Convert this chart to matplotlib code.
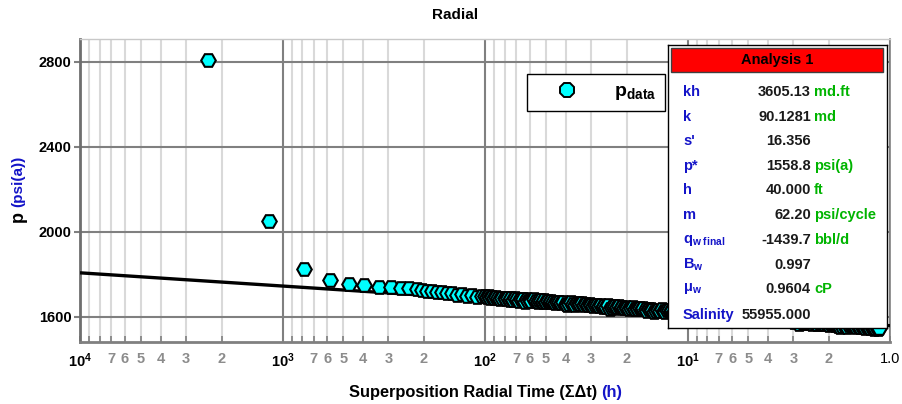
import matplotlib
matplotlib.use("Agg")
import matplotlib.pyplot as plt
import numpy as np
from matplotlib.ticker import FixedLocator, FixedFormatter
from matplotlib.lines import Line2D
from matplotlib.patches import Rectangle

plt.rcParams['font.family'] = ['Liberation Sans', 'DejaVu Sans']
plt.rcParams['mathtext.fontset'] = 'custom'
plt.rcParams['mathtext.rm'] = 'Liberation Sans'
plt.rcParams['mathtext.bf'] = 'Liberation Sans:bold'
plt.rcParams['mathtext.it'] = 'Liberation Sans:italic'

# Superposition radial time (h)
t_data = [2340, 1160, 780, 586, 468, 395, 333, 290, 259, 237,
          216, 204, 193, 182, 172, 163, 154, 146, 138, 130,
          123, 116, 110, 104,
          100, 98, 96, 94, 92, 90, 88, 86, 84, 82,
          80, 78.5, 77, 75.5, 74, 72.5, 71, 69.5, 68, 66.5,
          65, 63.5, 62, 61, 60, 59, 57.5, 56, 55, 54,
          53, 52, 51, 50, 49, 48, 47, 46, 45, 44,
          43, 42, 41, 40, 39.2, 38.4, 37.6, 36.8, 36, 35.2,
          34.5, 33.8, 33.1, 32.4, 31.7, 31, 30.4, 29.8, 29.2, 28.6,
          28, 27.4, 26.8, 26.2, 25.7, 25.2, 24.7, 24.2, 23.7, 23.2,
          22.7, 22.2, 21.8, 21.4, 21, 20.6, 20.2, 19.8, 19.4, 19,
          18.6, 18.2, 17.8, 17.5, 17.1, 16.8, 16.5, 16.1, 15.8, 15.5,
          15.2, 14.9, 14.6, 14.3, 14.0, 13.7, 13.4, 13.1, 12.9, 12.6,
          12.4, 12.1, 11.9, 11.6, 11.4, 11.2, 10.9, 10.7, 10.5, 10.3,
          10.1,
          9.9, 9.7, 9.5, 9.3, 9.1, 8.9, 8.7, 8.5, 8.3, 8.1,
          7.95, 7.8, 7.65, 7.5, 7.35, 7.2, 7.05, 6.9, 6.75, 6.6,
          6.45, 6.3, 6.18, 6.05, 5.93, 5.81, 5.69, 5.58, 5.47, 5.36,
          5.25, 5.14, 5.04, 4.94, 4.84, 4.74, 4.65, 4.55, 4.46, 4.37,
          4.28, 4.2, 4.11, 4.03, 3.95, 3.87, 3.79, 3.72, 3.64, 3.57,
          3.5, 3.43, 3.36, 3.29, 3.23, 3.16, 3.1, 3.04, 2.98, 2.92,
          2.86, 2.8, 2.75, 2.69, 2.64, 2.59, 2.53, 2.48, 2.43, 2.39,
          2.34, 2.29, 2.25, 2.2, 2.16, 2.11, 2.07, 2.03, 1.99, 1.95,
          1.91, 1.87, 1.84, 1.8, 1.76, 1.73, 1.69, 1.66, 1.63, 1.59,
          1.56, 1.53, 1.5, 1.47, 1.44, 1.41, 1.38, 1.36, 1.33, 1.3,
          1.28, 1.25, 1.23, 1.2, 1.18, 1.15, 1.13]

# Measured pressure (psi(a))
p_data = [2810, 2052, 1826, 1776, 1756, 1748, 1741, 1739, 1736, 1734,
          1731, 1729, 1723, 1724, 1716, 1718, 1711, 1713, 1705, 1707,
          1700, 1703, 1696, 1698,
          1698, 1693, 1698, 1689, 1694, 1689, 1696, 1689, 1684, 1691,
          1691, 1686, 1691, 1682, 1687, 1682, 1689, 1683, 1677, 1684,
          1685, 1670, 1684, 1676, 1680, 1675, 1683, 1676, 1670, 1678,
          1678, 1672, 1678, 1669, 1674, 1669, 1676, 1670, 1664, 1671,
          1671, 1666, 1671, 1662, 1654, 1662, 1669, 1662, 1657, 1664,
          1664, 1659, 1664, 1655, 1660, 1655, 1662, 1656, 1650, 1657,
          1658, 1652, 1657, 1649, 1653, 1648, 1656, 1639, 1643, 1651,
          1651, 1645, 1651, 1642, 1647, 1642, 1649, 1643, 1637, 1644,
          1645, 1639, 1644, 1636, 1640, 1636, 1643, 1636, 1630, 1638,
          1638, 1633, 1623, 1629, 1634, 1629, 1636, 1630, 1624, 1631,
          1632, 1626, 1632, 1623, 1627, 1623, 1630, 1623, 1618, 1625,
          1625,
          1625, 1619, 1624, 1616, 1620, 1615, 1622, 1615, 1610, 1617,
          1617, 1611, 1617, 1601, 1612, 1608, 1615, 1608, 1602, 1610,
          1610, 1604, 1609, 1601, 1605, 1600, 1607, 1601, 1595, 1602,
          1603, 1597, 1602, 1594, 1598, 1593, 1600, 1584, 1588, 1595,
          1596, 1590, 1595, 1586, 1591, 1586, 1593, 1587, 1581, 1588,
          1589, 1583, 1588, 1579, 1584, 1579, 1586, 1580, 1574, 1581,
          1582, 1567, 1581, 1572, 1577, 1572, 1579, 1573, 1567, 1574,
          1575, 1569, 1574, 1565, 1570, 1565, 1572, 1566, 1560, 1567,
          1567, 1562, 1567, 1558, 1551, 1558, 1565, 1559, 1553, 1560,
          1560, 1555, 1560, 1551, 1556, 1551, 1558, 1552, 1546, 1553,
          1554, 1548, 1553, 1544, 1549, 1544, 1546]

# Semilog straight-line analysis results
p_star = 1558.8      # psi(a), pressure extrapolated to unit superposition time
slope_m = 62.20      # psi/cycle
t_line = np.array([1.0e4, 1.0])
p_line = p_star + slope_m * np.log10(t_line)

# Analysis table
param_names = ['kh', 'k', "s'", 'p*', 'h', 'm',
               r'$\mathbf{q}_{\mathbf{w\ final}}$', r'$\mathbf{B}_{\mathbf{w}}$',
               r'$\mathbf{\mu}_{\mathbf{w}}$', 'Salinity']
param_values = ['3605.13', '90.1281', '16.356', '1558.8', '40.000', '62.20',
                '-1439.7', '0.997', '0.9604', '55955.000']
param_units = ['md.ft', 'md', '', 'psi(a)', 'ft', 'psi/cycle', 'bbl/d', '', 'cP', '']

major_ticks = [1e4, 1e3, 1e2, 1e1, 1.0]
major_labels = [r'$\mathbf{10^{4}}$', r'$\mathbf{10^{3}}$', r'$\mathbf{10^{2}}$',
                r'$\mathbf{10^{1}}$', '1.0']
minor_digits = [2, 3, 4, 5, 6, 7, 8, 9]
minor_digit_labels = ['2', '3', '4', '5', '6', '7', '', '']
y_ticks = [1600, 2000, 2400, 2800]

W, H = 902, 404
fig = plt.figure(figsize=(W / 100, H / 100), dpi=100)
fig.patch.set_facecolor('white')

ax_l, ax_r, ax_t, ax_b = 80, 890, 39, 342
ax = fig.add_axes([ax_l / W, 1 - ax_b / H, (ax_r - ax_l) / W, (ax_b - ax_t) / H])
ax.set_xscale('log')
ax.set_xlim(1e4, 1.0)
ax.set_ylim(1482, 2908)

minor_locs, minor_labs = [], []
for d in [1e3, 1e2, 1e1, 1.0]:
    for k, lab in zip(minor_digits, minor_digit_labels):
        minor_locs.append(k * d)
        minor_labs.append(lab)

ax.xaxis.set_major_locator(FixedLocator(major_ticks))
ax.xaxis.set_major_formatter(FixedFormatter(major_labels))
ax.xaxis.set_minor_locator(FixedLocator(minor_locs))
ax.xaxis.set_minor_formatter(FixedFormatter(minor_labs))
ax.yaxis.set_major_locator(FixedLocator(y_ticks))
ax.yaxis.set_minor_locator(FixedLocator([]))

ax.grid(True, which='major', axis='x', color='#808080', lw=1.5, zorder=0)
ax.grid(True, which='minor', axis='x', color='#d9d9d9', lw=1.5, zorder=0)
ax.grid(True, which='major', axis='y', color='#808080', lw=1.5, zorder=0)
ax.set_axisbelow(True)

ax.tick_params(axis='x', which='both', direction='in', length=4, width=1.2,
               color='#808080', pad=7)
ax.tick_params(axis='x', which='major', labelsize=10.5, labelcolor='black')
ax.tick_params(axis='x', which='minor', labelsize=10.5, labelcolor='#8c8c8c')
ax.tick_params(axis='y', which='major', direction='out', length=4, width=1.5,
               color='#808080', labelsize=10.5, pad=2)
for lab in ax.get_xticklabels(minor=True):
    lab.set_fontweight('bold')
for lab in ax.get_yticklabels():
    lab.set_fontweight('bold')

ax.spines['left'].set_color('#6e6e6e')
ax.spines['left'].set_linewidth(2)
ax.spines['bottom'].set_color('#808080')
ax.spines['bottom'].set_linewidth(2)
ax.spines['top'].set_color('#c8c8c8')
ax.spines['top'].set_linewidth(1)
ax.spines['right'].set_color('#808080')
ax.spines['right'].set_linewidth(1.2)

# Straight line and pressure data
ax.plot(t_line, p_line, color='black', lw=2.4, zorder=3, solid_capstyle='butt')
ax.plot(t_data, p_data, ls='none', marker='H', ms=10.5, mfc='#00ffff',
        mec='black', mew=1.5, zorder=4)

handle = Line2D([], [], ls='none', marker='8', ms=11.5, mfc='#00ffff',
                mec='black', mew=1.4)
leg = ax.legend([handle], [r'$\mathbf{p}_{\mathbf{data}}$'], loc='upper left',
                bbox_to_anchor=((527 - ax_l) / (ax_r - ax_l), (ax_b - 74) / (ax_b - ax_t)),
                borderaxespad=0, frameon=True, fancybox=False, framealpha=1,
                edgecolor='black', fontsize=14, borderpad=0.45,
                handlelength=3.2, handletextpad=0.85)
leg.get_frame().set_linewidth(1.0)
leg.set_zorder(6)

# Title and axis labels
fig.text(455 / W, 1 - 15 / H, 'Radial', ha='center', va='center',
         fontsize=11, fontweight='bold')
fig.text(18 / W, 1 - 216 / H, 'p', rotation=90, ha='center', va='center',
         fontsize=13, fontweight='bold', color='black')
fig.text(18 / W, 1 - 181 / H, '(psi(a))', rotation=90, ha='center', va='center',
         fontsize=11, fontweight='bold', color='#1414c8')
fig.text(597 / W, 1 - 392 / H, 'Superposition Radial Time (\u03a3\u0394t)',
         ha='right', va='center', fontsize=11.8, fontweight='bold', color='black')
fig.text(601 / W, 1 - 392 / H, '(h)', ha='left', va='center',
         fontsize=11.8, fontweight='bold', color='#1414c8')

# Analysis results panel
bx_l, bx_r, bx_t, bx_b = 668, 887, 45, 328
bax = fig.add_axes([bx_l / W, 1 - bx_b / H, (bx_r - bx_l) / W, (bx_b - bx_t) / H])
bax.set_zorder(10)
bax.set_xlim(bx_l, bx_r)
bax.set_ylim(bx_b, bx_t)
bax.set_xticks([])
bax.set_yticks([])
bax.set_facecolor('white')
for s in bax.spines.values():
    s.set_color('black')
    s.set_linewidth(1.0)
bax.add_patch(Rectangle((671, 47.5), 212, 24, facecolor='#ff0000',
                        edgecolor='#404040', lw=1.0))
bax.text(777, 60, 'Analysis 1', ha='center', va='center', fontsize=10.5,
         fontweight='bold', color='black')

row_y = [92, 117, 141, 166, 190, 215, 240, 265, 289, 315]
for y, name, val, unit in zip(row_y, param_names, param_values, param_units):
    bax.text(683, y, name, ha='left', va='center', fontsize=10.5,
             fontweight='bold', color='#1414c8')
    bax.text(811, y, val, ha='right', va='center', fontsize=10.5,
             fontweight='bold', color='#1a1a1a')
    if unit:
        bax.text(814, y, unit, ha='left', va='center', fontsize=10.5,
                 fontweight='bold', color='#00b400')

fig.savefig('out.png', dpi=100, facecolor='white')
